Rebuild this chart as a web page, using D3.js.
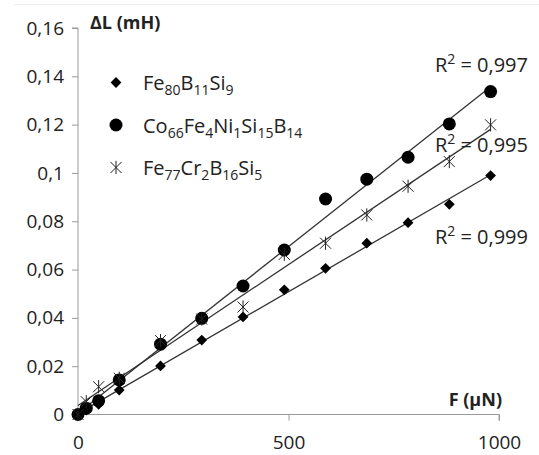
<!DOCTYPE html>
<html>
<head>
<meta charset="utf-8">
<script src="https://cdn.jsdelivr.net/npm/d3@7"></script>
<style>
  body { margin: 0; background: #fff; }
  text { font-family: "Open Sans", sans-serif; fill: #222; }
</style>
</head>
<body>
<div id="chart"></div>
<script>
// Force F (µN) at each load step
const forces = [0, 19.6, 49, 98, 196, 294, 392, 490, 588, 686, 784, 882, 980];

// ΔL (mH) per alloy
const feBSi = [0, 0.0018, 0.0042, 0.0101, 0.0201, 0.0308, 0.0404, 0.0516, 0.0605, 0.0709, 0.0794, 0.0870, 0.0989];
const coFeNi = [0, 0.0026, 0.0057, 0.0143, 0.0291, 0.0398, 0.0532, 0.0681, 0.0892, 0.0974, 0.1065, 0.1203, 0.1337];
const feCrB = [0, 0.0053, 0.0115, 0.0150, 0.0306, 0.0395, 0.0445, 0.0663, 0.0709, 0.0826, 0.0945, 0.1047, 0.1199];

const r2Labels = ["0,999", "0,997", "0,995"];

const yTicks = [0, 0.02, 0.04, 0.06, 0.08, 0.1, 0.12, 0.14, 0.16];
const xTicks = [0, 500, 1000];

// legend names as [text, subscript] parts
const names = [
    [["Fe", "80"], ["B", "11"], ["Si", "9"]],
    [["Co", "66"], ["Fe", "4"], ["Ni", "1"], ["Si", "15"], ["B", "14"]],
    [["Fe", "77"], ["Cr", "2"], ["B", "16"], ["Si", "5"]]
];

const series = [
    { values: feBSi, marker: "diamond", r2: r2Labels[0], r2y: 244 },
    { values: coFeNi, marker: "circle", r2: r2Labels[1], r2y: 72 },
    { values: feCrB, marker: "star", r2: r2Labels[2], r2y: 152 }
];

const W = 539, H = 455;
const margin = { top: 28, left: 78 };
const plotW = 421, plotH = 386.5;

const svg = d3.select("#chart").append("svg")
    .attr("width", W)
    .attr("height", H);

// faint frame edge at top of picture
svg.append("line")
    .attr("x1", 14).attr("x2", W)
    .attr("y1", 4.5).attr("y2", 4.5)
    .attr("stroke", "#eeeeee");

const g = svg.append("g")
    .attr("transform", `translate(${margin.left},${margin.top})`);

const x = d3.scaleLinear().domain([0, 1000]).range([0, plotW]);
const y = d3.scaleLinear().domain([0, 0.16]).range([plotH, 0]);

const fmt = d => String(+d.toFixed(2)).replace(".", ",");

// y axis
const yAxis = g.append("g")
    .call(d3.axisLeft(y).tickValues(yTicks).tickSize(6).tickPadding(8).tickFormat(fmt));
yAxis.selectAll("path, line").attr("stroke", "#9a9a9a");
yAxis.select(".domain").attr("d", `M0,${plotH}V0H-6`);
yAxis.selectAll("text").style("font-size", "19px").attr("fill", "#222")
    .style("font-family", "'Open Sans', sans-serif");

// x axis
const xAxis = g.append("g")
    .attr("transform", `translate(0,${plotH})`)
    .call(d3.axisBottom(x).tickValues(xTicks).tickSize(6).tickPadding(15).tickFormat(d3.format("d")));
xAxis.selectAll("path, line").attr("stroke", "#9a9a9a");
xAxis.select(".domain").attr("d", `M0,0H${plotW}V6`);
xAxis.selectAll("text").style("font-size", "19px").attr("fill", "#222")
    .style("font-family", "'Open Sans', sans-serif");

// axis titles
g.append("text")
    .attr("x", 12).attr("y", 1)
    .style("font-size", "18px").style("font-weight", "bold")
    .text("ΔL (mH)");
g.append("text")
    .attr("x", plotW + 3).attr("y", plotH - 9)
    .attr("text-anchor", "end")
    .style("font-size", "18px").style("font-weight", "bold")
    .text("F (µN)");

// least squares trend line
function fit(vals) {
    const mx = d3.mean(forces), my = d3.mean(vals);
    let sxy = 0, sxx = 0;
    forces.forEach((f, i) => { sxy += (f - mx) * (vals[i] - my); sxx += (f - mx) * (f - mx); });
    const b = sxy / sxx;
    return { b, a: my - b * mx };
}

const starPath = s => {
    const p = d3.path();
    p.moveTo(-s, -s); p.lineTo(s, s);
    p.moveTo(-s, s); p.lineTo(s, -s);
    p.moveTo(0, -s * 1.2); p.lineTo(0, s * 1.2);
    return p.toString();
};
const diamondPath = d3.symbol(d3.symbolSquare, 58)();

function drawMarker(sel, type) {
    if (type === "circle") {
        sel.append("circle").attr("r", 6.5).attr("fill", "#000");
    } else if (type === "diamond") {
        sel.append("path").attr("d", diamondPath).attr("transform", "rotate(45)").attr("fill", "#000");
    } else {
        sel.append("path").attr("d", starPath(5.5)).attr("fill", "none")
            .attr("stroke", "#222").attr("stroke-width", 1);
    }
}

series.forEach(s => {
    const { a, b } = fit(s.values);
    const f0 = d3.min(forces), f1 = d3.max(forces);
    g.append("line")
        .attr("x1", x(f0)).attr("y1", y(a + b * f0))
        .attr("x2", x(f1)).attr("y2", y(a + b * f1))
        .attr("stroke", "#333").attr("stroke-width", 1.3);
});

series.forEach(s => {
    g.append("g").selectAll("g")
        .data(s.values)
        .enter().append("g")
        .attr("transform", (d, i) => `translate(${x(forces[i])},${y(d)})`)
        .each(function () { drawMarker(d3.select(this), s.marker); });
});

// R² labels
series.forEach(s => {
    const t = svg.append("text")
        .attr("x", 528).attr("y", s.r2y)
        .attr("text-anchor", "end")
        .style("font-size", "20px");
    t.append("tspan").text("R");
    t.append("tspan").attr("dy", -8).style("font-size", "14px").text("2");
    t.append("tspan").attr("dy", 8).text(" = " + s.r2);
});

// legend
const legend = svg.append("g").attr("transform", "translate(116,82.5)");
series.forEach((s, i) => {
    const row = legend.append("g").attr("transform", `translate(0,${i * 42.5})`);
    drawMarker(row.append("g"), s.marker);
    const t = row.append("text").attr("x", 27).attr("y", 7.5).style("font-size", "20px");
    names[i].forEach(([el, sub], j) => {
        t.append("tspan").attr("dy", j === 0 ? 0 : -5).text(el);
        t.append("tspan").attr("dy", 5).style("font-size", "14px").text(sub);
    });
});
</script>
</body>
</html>
